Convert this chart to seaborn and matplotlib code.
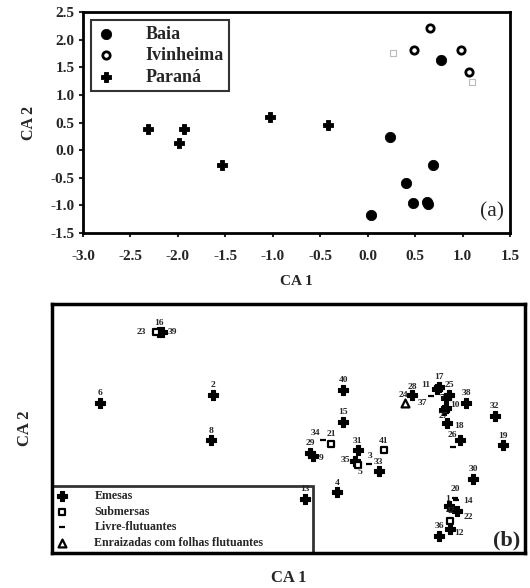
import numpy as np
import pandas as pd
import seaborn as sns
import matplotlib
matplotlib.use('Agg')
import matplotlib.pyplot as plt

# ---- dados painel (a): escores CA por local ----
baia_x = [0.04, 0.23, 0.40, 0.48, 0.63, 0.64, 0.69, 0.77]
baia_y = [-1.18, 0.23, -0.60, -0.96, -0.93, -0.98, -0.27, 1.64]
ivi_x = [0.66, 0.49, 0.98, 1.07]
ivi_y = [2.21, 1.81, 1.81, 1.42]
ivi_faint_x = [0.27, 1.10]
ivi_faint_y = [1.76, 1.23]
par_x = [-2.31, -1.94, -1.99, -1.53, -1.03, -0.42]
par_y = [0.38, 0.38, 0.13, -0.27, 0.60, 0.46]

# ---- dados painel (b): especies ----
sp_label = ['6', '23', '16', '39', '2', '8', '40', '15', '34', '21', '29', '9',
            '31', '35', '5', '3', '33', '41', '4', '13', '24', '28', '11', '17',
            '37', '25', '7', '10', '27', '38', '18', '26', '', '32', '19', '30',
            '20', '14', '1', '42', '22', '36', '12']
sp_x = [-2.49, -1.90, -1.87, -1.84, -1.30, -1.32, 0.08, 0.08, -0.14, -0.05, -0.27, -0.24,
        0.23, 0.20, 0.23, 0.35, 0.46, 0.51, 0.01, -0.33, 0.73, 0.81, 1.07, 1.09,
        1.01, 1.20, 1.16, 1.16, 1.14, 1.38, 1.18, 1.31, 1.24, 1.68, 1.77, 1.45,
        1.26, 1.27, 1.20, 1.21, 1.28, 1.09, 1.21]
sp_y = [0.71, 1.99, 1.99, 1.99, 0.86, 0.04, 0.95, 0.37, 0.04, -0.03, -0.19, -0.25,
        -0.14, -0.34, -0.41, -0.39, -0.52, -0.14, -0.90, -1.02, 0.71, 0.86, 0.96, 1.00,
        0.84, 0.86, 0.80, 0.62, 0.58, 0.71, 0.35, 0.04, -0.09, 0.48, -0.05, -0.66,
        -1.01, -1.04, -1.15, -1.42, -1.24, -1.69, -1.57]
sp_type = ['E', 'S', 'E', 'E', 'E', 'E', 'E', 'E', 'L', 'S', 'E', 'E',
           'E', 'E', 'S', 'L', 'E', 'S', 'E', 'E', 'T', 'E', 'E', 'E',
           'L', 'E', 'E', 'E', 'E', 'E', 'E', 'E', 'L', 'E', 'E', 'E',
           'L', 'L', 'E', 'S', 'E', 'E', 'E']
type_names = {'E': 'Emesas', 'S': 'Submersas', 'L': 'Livre-flutuantes',
              'T': 'Enraizadas com folhas flutuantes'}

sns.set_style('white')
plt.rcParams['font.family'] = ['Liberation Serif', 'DejaVu Serif']
plt.rcParams['font.weight'] = 'bold'

fig = plt.figure(figsize=(5.30, 5.88), dpi=100)
ax1 = fig.add_axes([0.1566, 0.6037, 0.8057, 0.3759])
ax2 = fig.add_axes([0.0981, 0.0595, 0.8925, 0.4235])

# ---------------- painel (a) ----------------
sns.scatterplot(x=baia_x, y=baia_y, ax=ax1, marker='o', s=55, color='black',
                edgecolor='black', label='Baia', zorder=3)
sns.scatterplot(x=ivi_x, y=ivi_y, ax=ax1, marker='o', s=28, facecolor='white',
                edgecolor='black', linewidth=2, label='Ivinheima', zorder=3)
sns.scatterplot(x=ivi_faint_x, y=ivi_faint_y, ax=ax1, marker='s', s=20,
                facecolor='white', edgecolor='#bbbbbb', linewidth=0.8, zorder=2)
sns.scatterplot(x=par_x, y=par_y, ax=ax1, marker='P', s=60, color='black',
                edgecolor='black', label='Paraná', zorder=3)

ax1.set_xlim(-3.0, 1.5)
ax1.set_ylim(-1.5, 2.5)
ax1.set_xticks(np.arange(-3.0, 1.51, 0.5))
ax1.set_yticks(np.arange(-1.5, 2.51, 0.5))
ax1.xaxis.set_major_formatter(matplotlib.ticker.FormatStrFormatter('%.1f'))
ax1.yaxis.set_major_formatter(matplotlib.ticker.FormatStrFormatter('%.1f'))
ax1.tick_params(direction='out', length=3, width=1.5, labelsize=11,
                bottom=True, left=True)
ax1.tick_params(axis='x', pad=9)
ax1.tick_params(axis='y', pad=3)
for lab in ax1.get_xticklabels() + ax1.get_yticklabels():
    lab.set_fontweight('bold')
for sp in ax1.spines.values():
    sp.set_linewidth(2)
    sp.set_color('black')
ax1.set_xlabel('CA 1', fontsize=11, fontweight='bold', labelpad=9)
ax1.set_ylabel('CA 2', fontsize=11.5, fontweight='bold', labelpad=10)
ax1.text(0.985, 0.05, '(a)', transform=ax1.transAxes, ha='right', va='bottom',
         fontsize=15.5, fontweight='normal')
leg1 = ax1.legend(loc='upper left', frameon=True, fancybox=False, fontsize=13,
                  handlelength=1.0, handletextpad=1.7, labelspacing=0.25,
                  borderpad=0.3, borderaxespad=0.45, edgecolor='black')
leg1.get_frame().set_linewidth(1.5)
for t in leg1.get_texts():
    t.set_fontweight('bold')

# ---------------- painel (b) ----------------
df = pd.DataFrame({'x': sp_x, 'y': sp_y, 'tipo': sp_type, 'rot': sp_label})
estilos = {
    'E': dict(marker='P', s=42, color='black', edgecolor='black', linewidth=0.8),
    'S': dict(marker='s', s=22, facecolor='white', edgecolor='black', linewidth=1.6),
    'L': dict(marker='_', s=18, color='black', linewidth=1.6),
    'T': dict(marker='^', s=32, facecolor='white', edgecolor='black', linewidth=1.6),
}
for k in ['E', 'S', 'L', 'T']:
    sub = df[df['tipo'] == k]
    sns.scatterplot(data=sub, x='x', y='y', ax=ax2, label=type_names[k], zorder=3,
                    **estilos[k])

# deslocamento dos rotulos (pontos)
desloc = {
    '23': (-7, 0, 'right', 'center'), '39': (4, 0, 'left', 'center'),
    '9': (4, -1, 'left', 'center'), '35': (-3, 1, 'right', 'center'),
    '18': (5, -2, 'left', 'center'), '26': (-2, 1, 'right', 'bottom'),
    '37': (-3, -2, 'right', 'top'), '12': (3, -3, 'left', 'center'),
    '14': (5, -1, 'left', 'center'), '22': (5, -4, 'left', 'center'),
    '5': (2, -2, 'center', 'top'), '10': (3, 2, 'left', 'center'),
    '27': (0, -1, 'center', 'top'), '7': (-1, 0, 'right', 'center'),
    '11': (-5, 0, 'right', 'bottom'), '1': (-1, 2, 'center', 'bottom'),
    '34': (-5, 2, 'center', 'bottom'), '24': (-1, 3, 'center', 'bottom'),
    '28': (0, 3, 'center', 'bottom'), '3': (1, 3, 'center', 'bottom'),
    '33': (-1, 4, 'center', 'bottom'),
}
for _, r in df.iterrows():
    if not r['rot']:
        continue
    dx, dy, ha, va = desloc.get(r['rot'], (0, 4, 'center', 'bottom'))
    ax2.annotate(r['rot'], (r['x'], r['y']), xytext=(dx, dy),
                 textcoords='offset points', ha=ha, va=va, fontsize=6.8,
                 fontweight='bold', zorder=4)

ax2.set_xlim(-3.0, 2.0)
ax2.set_ylim(-2.0, 2.5)
ax2.set_xticks([])
ax2.set_yticks([])
for sp in ax2.spines.values():
    sp.set_linewidth(2.5)
    sp.set_color('black')
ax2.set_xlabel('CA 1', fontsize=12, fontweight='bold', labelpad=12)
ax2.set_ylabel('CA 2', fontsize=12, fontweight='bold', labelpad=14)
ax2.text(0.99, 0.01, '(b)', transform=ax2.transAxes, ha='right', va='bottom',
         fontsize=16, fontweight='bold')
leg2 = ax2.legend(loc='lower left', bbox_to_anchor=(0.0, 0.0, 0.552, 0.28),
                  mode='expand', frameon=True, fancybox=False, fontsize=8.6,
                  handlelength=1.0, handletextpad=2.2, labelspacing=0.3,
                  borderpad=0.35, borderaxespad=0.0, edgecolor='black')
leg2.get_frame().set_linewidth(2)
leg2.set_zorder(2)
for t in leg2.get_texts():
    t.set_fontweight('bold')

fig.savefig('out.png', dpi=100)
